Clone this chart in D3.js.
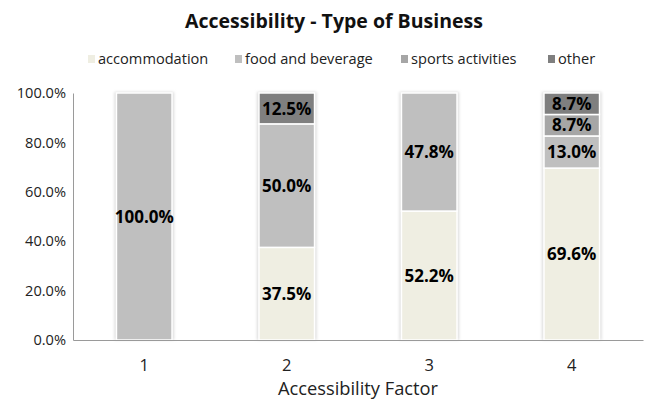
<!DOCTYPE html>
<html>
<head>
<meta charset="utf-8">
<script src="https://cdn.jsdelivr.net/npm/d3@7"></script>
<style>
  html, body { margin: 0; padding: 0; background: #fff; }
  svg { display: block; font-family: "Open Sans", "Liberation Sans", sans-serif; }
</style>
</head>
<body>
<svg id="chart" width="645" height="399"></svg>
<script>
// Share of each business type within each accessibility factor (percent)
const factors = ["1", "2", "3", "4"];
const seriesNames = ["accommodation", "food and beverage", "sports activities", "other"];
const accommodation = [0, 37.5, 52.2, 69.6];
const foodAndBeverage = [100.0, 50.0, 47.8, 13.0];
const sportsActivities = [0, 0, 0, 8.7];
const other = [0, 12.5, 0, 8.7];
const yTicks = [0, 20, 40, 60, 80, 100];
const colors = ["#efeee2", "#bfbfbf", "#a6a6a6", "#7f7f7f"];

const rows = factors.map((f, i) => ({
  factor: f,
  "accommodation": accommodation[i],
  "food and beverage": foodAndBeverage[i],
  "sports activities": sportsActivities[i],
  "other": other[i]
}));

const svg = d3.select("#chart");
const margin = { left: 73, right: 2, top: 93, bottom: 59 };
const W = 645, H = 399;

const x = d3.scaleBand()
  .domain(factors)
  .range([margin.left, W - margin.right])
  .paddingInner(0.61)
  .paddingOuter(0.305);
const y = d3.scaleLinear().domain([0, 100]).range([H - margin.bottom, margin.top]);
const color = d3.scaleOrdinal().domain(seriesNames).range(colors);

const stacked = d3.stack().keys(seriesNames)(rows);

// soft halo around the bars
const defs = svg.append("defs");
defs.append("filter").attr("id", "halo").attr("x", "-20%").attr("y", "-5%").attr("width", "140%").attr("height", "110%")
  .append("feGaussianBlur").attr("stdDeviation", 1.5);

svg.append("g")
  .selectAll("rect")
  .data(factors)
  .join("rect")
  .attr("x", d => x(d) - 2)
  .attr("y", y(100) - 1)
  .attr("width", x.bandwidth() + 4)
  .attr("height", y(0) - y(100) + 1)
  .attr("fill", "#dcdcdc")
  .attr("filter", "url(#halo)");

// stacked segments
const layer = svg.append("g")
  .selectAll("g")
  .data(stacked)
  .join("g")
  .attr("fill", d => color(d.key));

layer.selectAll("rect")
  .data(d => d.filter(s => s[1] - s[0] > 0))
  .join("rect")
  .attr("x", d => x(d.data.factor))
  .attr("y", d => y(d[1]))
  .attr("width", x.bandwidth())
  .attr("height", d => y(d[0]) - y(d[1]))
  .attr("stroke", "#ffffff")
  .attr("stroke-width", 1.5);

// value labels
layer.selectAll("text")
  .data(d => d.filter(s => s[1] - s[0] > 0))
  .join("text")
  .attr("x", d => x(d.data.factor) + x.bandwidth() / 2)
  .attr("y", d => (y(d[0]) + y(d[1])) / 2)
  .attr("dy", "0.36em")
  .attr("text-anchor", "middle")
  .attr("fill", "#000")
  .attr("font-weight", "bold")
  .attr("font-size", 17)
  .text(d => (d[1] - d[0]).toFixed(1) + "%");

// y axis: line and labels only
const yAxis = svg.append("g")
  .attr("transform", `translate(${margin.left},0)`)
  .call(d3.axisLeft(y).tickValues(yTicks).tickSize(0).tickPadding(7).tickFormat(d => d.toFixed(1) + "%"));
yAxis.select(".domain").attr("stroke", "#9a9a9a").attr("stroke-width", 1);
yAxis.selectAll("text").attr("font-size", 14.6).attr("fill", "#222").attr("font-family", "Open Sans, sans-serif");

// x axis
const xAxis = svg.append("g")
  .attr("transform", `translate(0,${y(0)})`)
  .call(d3.axisBottom(x).tickSize(0).tickPadding(19));
xAxis.select(".domain").attr("stroke", "#9a9a9a").attr("stroke-width", 1.2);
xAxis.selectAll("text").attr("font-size", 16.5).attr("fill", "#222").attr("font-family", "Open Sans, sans-serif");

// axis title
svg.append("text")
  .attr("x", (margin.left + W - margin.right) / 2)
  .attr("y", 395)
  .attr("text-anchor", "middle")
  .attr("font-size", 18.3)
  .attr("fill", "#222")
  .text("Accessibility Factor");

// chart title
svg.append("text")
  .attr("x", 334)
  .attr("y", 28)
  .attr("text-anchor", "middle")
  .attr("font-size", 19.5)
  .attr("font-weight", "bold")
  .attr("fill", "#111")
  .text("Accessibility - Type of Business");

// legend
const legendX = [88, 235, 401, 548];
const legend = svg.append("g")
  .selectAll("g")
  .data(seriesNames)
  .join("g")
  .attr("transform", (d, i) => `translate(${legendX[i]},59)`);
legend.append("rect")
  .attr("x", 0).attr("y", -4)
  .attr("width", 7).attr("height", 8)
  .attr("fill", d => color(d));
legend.append("text")
  .attr("x", 10)
  .attr("dy", "0.35em")
  .attr("font-size", 14.6)
  .attr("fill", "#222")
  .text(d => d);
</script>
</body>
</html>
